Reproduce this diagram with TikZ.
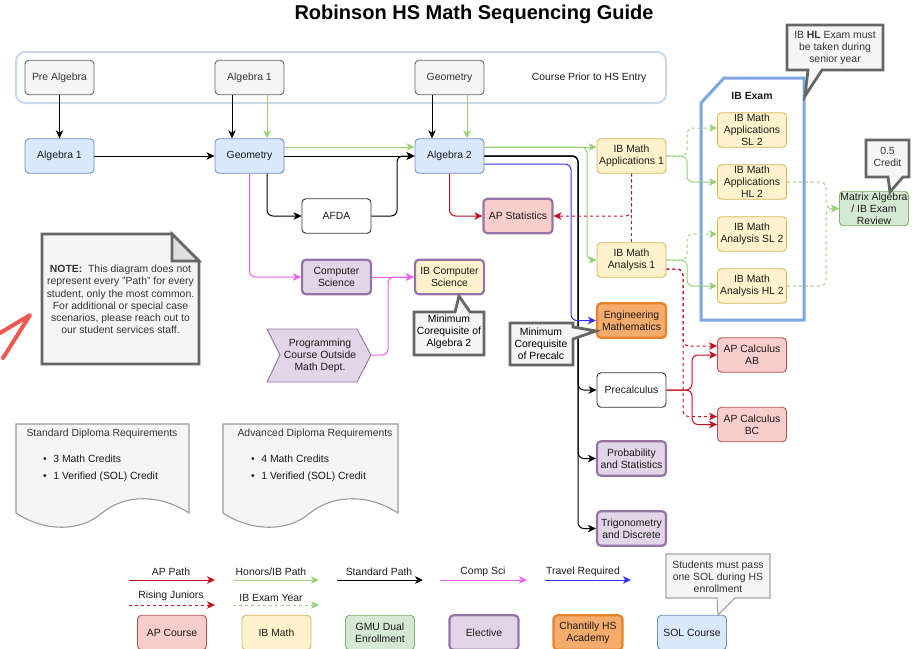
\documentclass[tikz,border=0pt]{standalone}
\usepackage{fontspec}
\setmainfont{Liberation Sans}
\usetikzlibrary{arrows.meta}
\newcommand\fs{\fontsize{10.4}{12.2}\selectfont}
\definecolor{gfill}{HTML}{F5F5F5}\definecolor{gdraw}{HTML}{666666}
\definecolor{bfill}{HTML}{DAE8FC}\definecolor{bdraw}{HTML}{6C8EBF}
\definecolor{yfill}{HTML}{FFF2CC}\definecolor{ydraw}{HTML}{D6B656}
\definecolor{rfill}{HTML}{F8CECC}\definecolor{rdraw}{HTML}{B85450}
\definecolor{gnfill}{HTML}{D5E8D4}\definecolor{gndraw}{HTML}{82B366}
\definecolor{pfill}{HTML}{E1D5E7}\definecolor{pdraw}{HTML}{9673A6}
\definecolor{ofill}{HTML}{F5AB6B}\definecolor{odraw}{HTML}{E8832A}
\definecolor{cred}{HTML}{C0101E}\definecolor{cgrn}{HTML}{97D077}
\definecolor{cpink}{HTML}{F060F0}\definecolor{cblue}{HTML}{3232FF}
\definecolor{ibblue}{HTML}{7EA6E0}\definecolor{topblue}{HTML}{C9D8EE}
\definecolor{txt}{HTML}{1A1A1A}\definecolor{gtxt}{HTML}{333333}
\definecolor{annot}{HTML}{F25650}
\begin{document}
\begin{tikzpicture}[x=1pt,y=-1pt,font=\fs,text=txt,
  box/.style={rectangle,rounded corners=4pt,minimum width=69pt,minimum height=34.5pt,align=center,inner sep=1pt,line width=0.9pt},
  graybox/.style={box,fill=gfill,draw=gdraw,text=gtxt},
  bluebox/.style={box,fill=bfill,draw=bdraw},
  yelbox/.style={box,fill=yfill,draw=ydraw},
  redbox/.style={box,fill=rfill,draw=rdraw},
  grnbox/.style={box,fill=gnfill,draw=gndraw},
  purbox/.style={box,fill=pfill,draw=pdraw,line width=2.2pt},
  orgbox/.style={box,fill=ofill,draw=odraw,line width=2.2pt},
  whtbox/.style={box,fill=white,draw=gtxt},
  conn/.style={line width=1pt,rounded corners=6pt},
  arr/.style={conn,-{Stealth[length=8pt,width=7.5pt,inset=2.2pt]}},
  blk/.style={arr,draw=black},
  grn/.style={arr,draw=cgrn},
  grnd/.style={arr,draw=cgrn,dash pattern=on 3pt off 3pt},
  redc/.style={arr,draw=cred},
  redd/.style={arr,draw=cred,dash pattern=on 3pt off 3pt},
  pnk/.style={arr,draw=cpink},
  blu/.style={arr,draw=cblue},
  callout/.style={fill=gfill,draw=gdraw,line width=2.8pt,line join=miter},
  plain/.style={inner sep=0pt,align=center}
]
\useasboundingbox (0,0) rectangle (913,648);
% title
\node[plain,font=\fontsize{20}{24}\selectfont\bfseries,text=black] (title) at (474,14) {Robinson HS Math Sequencing Guide};
% prior container
\draw[topblue,line width=2pt,rounded corners=9pt] (16,52) rectangle (666,103);
\node[plain] (priortxt) at (589,77.5) {Course Prior to HS Entry};
\node[graybox] (pre) at (59.5,77.5) {Pre Algebra};
\node[graybox] (talg1) at (249.5,77.5) {Algebra 1};
\node[graybox] (tgeo) at (449.5,77.5) {Geometry};
% row 2
\node[bluebox] (alg1) at (59.5,156) {Algebra 1};
\node[bluebox] (geo) at (249.5,156) {Geometry};
\node[bluebox] (alg2) at (449.5,156) {Algebra 2};
\node[whtbox] (afda) at (336.5,216) {AFDA};
\node[purbox] (cs) at (336.5,277) {Computer\\Science};
\node[purbox,fill=yfill] (ibcs) at (449.5,277) {IB Computer\\Science};
\node[purbox,fill=rfill] (apstat) at (518,216) {AP Statistics};
% programming chevron
\coordinate (prgtip) at (371,355);
\draw[fill=pfill,draw=pdraw,line width=0.9pt] (267,329) -- (357,329) -- (prgtip) -- (357,382) -- (267,382) -- (280,355) -- cycle;
\node[plain] (prog) at (320,356) {Programming\\Course Outside\\Math Dept.};
% IB column
\node[yelbox] (ibapp1) at (631.5,156) {IB Math\\Applications 1};
\node[yelbox] (ibana1) at (631.5,260) {IB Math\\Analysis 1};
\node[orgbox] (engm) at (631.5,320.5) {Engineering\\Mathematics};
\node[whtbox] (precalc) at (631.5,390) {Precalculus};
\node[purbox] (prob) at (631.5,458.5) {Probability\\and Statistics};
\node[purbox] (trig) at (631.5,528.5) {Trigonometry\\and Discrete};
% IB exam container
\draw[ibblue,line width=3pt,fill=white,line join=miter] (701,103) -- (724,78) -- (804,78) -- (804,320) -- (701,320) -- cycle;
\node[plain,font=\fs\bfseries] (ibexam) at (752,96) {IB Exam};
\node[yelbox] (apsl) at (752,130) {IB Math\\Applications\\SL 2};
\node[yelbox] (aphl) at (752,182) {IB Math\\Applications\\HL 2};
\node[yelbox] (ansl) at (752,234) {IB Math\\Analysis SL 2};
\node[yelbox] (anhl) at (752,286) {IB Math\\Analysis HL 2};
\node[grnbox] (matrix) at (874,208.5) {Matrix Algebra\\/ IB Exam\\Review};
\node[redbox] (apab) at (752,355) {AP Calculus\\AB};
\node[redbox] (apbc) at (752,424.5) {AP Calculus\\BC};
% connectors top
\draw[blk] (pre.south) -- (alg1.north);
\draw[blk] ([xshift=-17.5pt]talg1.south) -- ([xshift=-17.5pt]geo.north);
\draw[grn] ([xshift=17.5pt]talg1.south) -- ([xshift=17.5pt]geo.north);
\draw[blk] ([xshift=-17.5pt]tgeo.south) -- ([xshift=-17.5pt]alg2.north);
\draw[grn] ([xshift=17.5pt]tgeo.south) -- ([xshift=17.5pt]alg2.north);
\draw[blk] (alg1.east) -- (geo.west);
\draw[blk] (geo.east) -- (alg2.west);
\draw[grn] ([yshift=9pt]geo.east) -- ([yshift=9pt]alg2.west);
\draw[blk] ([xshift=17.5pt]geo.south) |- (afda.west);
\draw[blk] (afda.east) -- (397,216) |- (alg2.west);
\draw[pnk] (geo.south) |- (cs.west);
\draw[pnk] (cs.east) -- (ibcs.west);
\draw[pnk] (prgtip) -- (388,355) |- (ibcs.west);
\draw[redc] (alg2.south) |- (apstat.west);
% from algebra 2 right
\draw[blk] (alg2.east) -- (578,156) |- (precalc.west);
\draw[blk] (alg2.east) -- (578,156) |- (prob.west);
\draw[blk] (alg2.east) -- (578,156) |- (trig.west);
\draw[blu] ([yshift=-8pt]alg2.east) -- (571,164) |- (engm.west);
\draw[grn] ([yshift=9pt]alg2.east) -- ([yshift=9pt]ibapp1.west);
\draw[grn] ([yshift=9pt]alg2.east) -- (587,147) |- (ibana1.west);
% AP stats dashed
\draw[conn,draw=cred,dash pattern=on 3pt off 3pt] (ibana1.north) -- (ibapp1.south);
\draw[redd] (ibapp1.south) |- (apstat.east);
% calculus
\draw[redc] (precalc.east) -- (692,390) |- (apab.west);
\draw[redc] (precalc.east) -- (692,390) |- (apbc.west);
\draw[redd] ([yshift=-9pt]ibana1.east) -- (683,269) |- ([yshift=9pt]apab.west);
\draw[redd] ([yshift=-9pt]ibana1.east) -- (683,269) |- ([yshift=8pt]apbc.west);
% IB exam links
\draw[grn] (ibapp1.east) -- (687,156) |- (aphl.west);
\draw[grnd] (ibapp1.east) -- (687,156) |- ([yshift=2pt]apsl.west);
\draw[grn] (ibana1.east) -- (687,260) |- (anhl.west);
\draw[grnd] (ibana1.east) -- (687,260) |- (ansl.west);
\draw[grnd] (aphl.east) -- (826,182) |- (matrix.west);
\draw[grnd] (anhl.east) -- (826,286) |- (matrix.west);
% callouts
\draw[callout] (414,312) -- (455,312) -- (459,296) -- (470,312) -- (484,312) -- (484,355) -- (414,355) -- cycle;
\node[plain,text=black] (co1) at (449,332) {Minimum\\Corequisite of\\Algebra 2};
\draw[callout] (510,323) -- (573,323) -- (573,327) -- (596,331) -- (573,339) -- (573,365) -- (510,365) -- cycle;
\node[plain,text=black] (co2) at (541,344) {Minimum\\Corequisite\\of Precalc};
\draw[callout] (866,140) -- (909,140) -- (909,177) -- (903,177) -- (890,192) -- (888,177) -- (866,177) -- cycle;
\node[plain,text=gtxt] (co3) at (887.5,157) {0.5\\Credit};
\draw[callout] (787,25) -- (883,25) -- (883,70) -- (822,70) -- (805,96) -- (808,70) -- (787,70) -- cycle;
\node[plain,text=gtxt] (co4) at (835,48) {IB \textbf{HL} Exam must\\be taken during\\senior year};
% note
\draw[callout,fill=gfill] (42,234) -- (172,234) -- (199,261) -- (199,364) -- (42,364) -- cycle;
\draw[fill=gray!25,draw=gdraw,line width=2.8pt,line join=miter] (172,234) -- (172,261) -- (199,261) -- cycle;
\node[plain,text=gtxt] (note) at (120.5,299.5) {\textbf{NOTE:}\ \ This diagram does not\\represent every "Path" for every\\student, only the most common.\\For additional or special case\\scenarios, please reach out to\\our student services staff.};
% red annotation
\draw[annot,line width=4pt,line cap=round,line join=round] (0,333) -- (30,315) -- (3,358);
% documents
\draw[fill=gfill,draw=gray!80,line width=1.1pt] (16,424) -- (189,424) -- (189,513) .. controls (160,494) and (125,494) .. (102,513) .. controls (80,532) and (45,532) .. (16,513) -- cycle;
\node[plain,text=gtxt] (std) at (102,434) {Standard Diploma Requirements};
\node[plain,anchor=west] (std1) at (43,459) {\textbullet\hspace{6.5pt}3 Math Credits};
\node[plain,anchor=west] (std2) at (43,477) {\textbullet\hspace{6.5pt}1 Verified (SOL) Credit};
\draw[fill=gfill,draw=gray!80,line width=1.1pt] (223,424) -- (398,424) -- (398,513) .. controls (369,494) and (334,494) .. (310,513) .. controls (288,532) and (252,532) .. (223,513) -- cycle;
\node[plain,text=gtxt] (adv) at (315,434) {Advanced Diploma Requirements};
\node[plain,anchor=west] (adv1) at (251,459) {\textbullet\hspace{6.5pt}4 Math Credits};
\node[plain,anchor=west] (adv2) at (251,477) {\textbullet\hspace{6.5pt}1 Verified (SOL) Credit};
% legend
\coordinate (la1) at (129,580); \coordinate (lb1) at (215,580);
\coordinate (la2) at (233,580); \coordinate (lb2) at (319,580);
\coordinate (la3) at (337,580); \coordinate (lb3) at (423,580);
\coordinate (la4) at (440,580); \coordinate (lb4) at (527,580);
\coordinate (la5) at (545,580); \coordinate (lb5) at (631,580);
\coordinate (la6) at (129,605); \coordinate (lb6) at (215,605);
\coordinate (la7) at (233,605); \coordinate (lb7) at (319,605);
\draw[redc] (la1) -- (lb1); \node[plain] (lt1) at (171,572) {AP Path};
\draw[grn] (la2) -- (lb2); \node[plain] (lt2) at (271,572) {Honors/IB Path};
\draw[blk] (la3) -- (lb3); \node[plain] (lt3) at (379,572) {Standard Path};
\draw[pnk] (la4) -- (lb4); \node[plain] (lt4) at (483,572) {Comp Sci};
\draw[blu] (la5) -- (lb5); \node[plain] (lt5) at (583,572) {Travel Required};
\draw[redd] (la6) -- (lb6); \node[plain] (lt6) at (171,596) {Rising Juniors};
\draw[grnd] (la7) -- (lb7); \node[plain] (lt7) at (271,598) {IB Exam Year};
\node[redbox] (lg1) at (172,632.5) {AP Course};
\node[yelbox] (lg2) at (276.5,632.5) {IB Math};
\node[grnbox] (lg3) at (380,632.5) {GMU Dual\\Enrollment};
\node[purbox] (lg4) at (484,632.5) {Elective};
\node[orgbox] (lg5) at (588,632.5) {Chantilly HS\\Academy};
\node[bluebox] (lg6) at (692,632.5) {SOL Course};
\draw[fill=gfill,draw=gray!70,line width=1.1pt] (666,554) -- (770,554) -- (770,598) -- (735,598) -- (718,615) -- (717,598) -- (666,598) -- cycle;
\node[plain,text=gtxt] (co5) at (718,576.5) {Students must pass\\one SOL during HS\\enrollment};
\end{tikzpicture}
\end{document}
